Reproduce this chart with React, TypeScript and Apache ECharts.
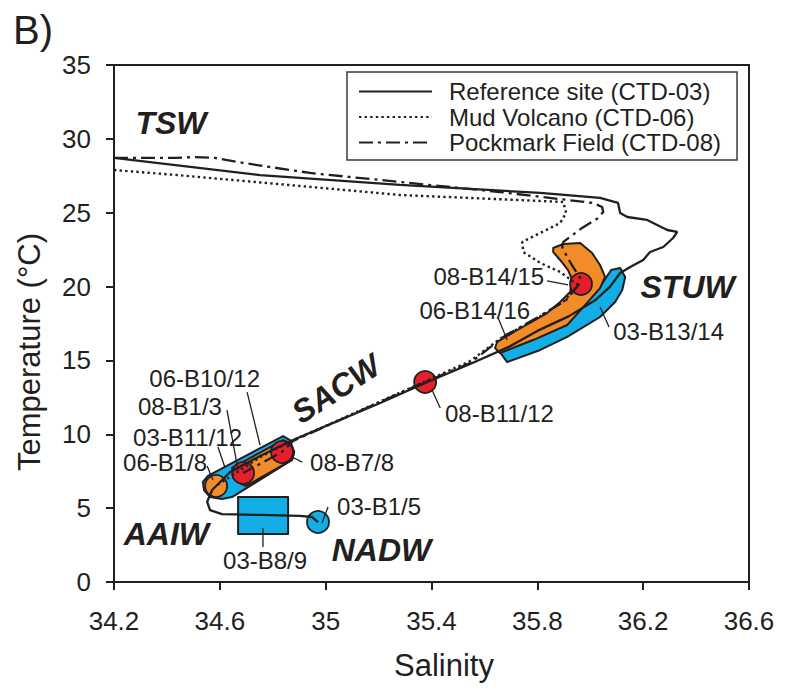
import React, { useEffect, useRef } from "react";
import * as echarts from "echarts";

const FONT = '"Liberation Sans", Arial, Helvetica, sans-serif';
const INK = "#231f20";
const ORANGE = "#F28C28";
const BLUE = "#14AEE6";
const RED = "#E5202A";

// Axis ticks
const salinityTicks = [34.2, 34.6, 35, 35.4, 35.8, 36.2, 36.6];

// CTD profiles: [salinity, temperature]
const ctd03: number[][] = [
  [34.2, 28.71], [34.752, 27.55], [35.281, 26.88], [35.811, 26.34], [36.037, 26.0],
  [36.105, 25.66], [36.113, 24.98], [36.14, 24.71], [36.215, 24.51], [36.291, 23.83],
  [36.329, 23.7], [36.313, 23.29], [36.276, 22.68], [36.226, 22.34], [36.2, 21.8],
  [36.151, 21.33], [36.113, 20.92], [36.075, 20.0], [36.02, 19.09], [35.92, 18.0],
  [35.8, 17.0], [35.69, 15.9], [35.546, 14.76], [35.376, 13.47], [35.206, 12.12],
  [35.054, 10.97], [34.877, 9.61], [34.752, 8.53], [34.639, 7.45], [34.571, 6.23],
  [34.552, 5.42], [34.563, 4.87], [34.608, 4.6], [34.752, 4.54], [34.903, 4.47],
  [34.949, 4.4], [34.971, 4.06],
];
const ctd06: number[][] = [
  [34.2, 27.89], [34.438, 27.55], [34.778, 27.01], [35.281, 26.2], [35.898, 25.73],
  [35.909, 24.98], [35.886, 24.3], [35.811, 23.63], [35.743, 23.02], [35.747, 22.34],
  [35.811, 21.6], [35.886, 20.99], [35.932, 20.38], [35.954, 20.11], [35.9, 19.0],
  [35.79, 17.75], [35.67, 16.6], [35.546, 14.96], [35.376, 13.58], [35.206, 12.22],
  [35.054, 11.0], [34.877, 9.6], [34.752, 8.45], [34.586, 6.5],
];
const ctd08: number[][] = [
  [34.2, 28.71], [34.431, 28.71], [34.506, 28.77], [34.582, 28.71], [34.688, 28.37],
  [34.941, 27.69], [35.281, 27.08], [35.659, 26.4], [36.011, 25.66], [36.045, 25.39],
  [36.049, 25.05], [36.03, 24.64], [35.969, 23.97], [35.898, 23.02], [35.894, 22.68],
  [35.913, 22.0], [35.935, 21.33], [35.962, 20.58], [35.958, 20.17], [35.91, 19.1],
  [35.8, 17.9], [35.68, 16.7], [35.546, 14.83], [35.376, 13.54], [35.206, 12.19],
  [35.054, 10.97], [34.877, 9.55], [34.835, 8.8], [34.688, 7.38],
];

// Sample ranges (polygons) [salinity, temperature]
const stuwBlue: number[][] = [
  [35.652, 15.71], [35.686, 14.89], [35.811, 15.71], [35.913, 16.59], [36.037, 17.94],
  [36.094, 18.96], [36.121, 19.77], [36.132, 20.65], [36.113, 21.26], [36.079, 21.12],
  [36.049, 20.31], [35.999, 19.43], [35.886, 18.01], [35.773, 16.79], [35.659, 15.98],
];
const stuwOrange: number[][] = [
  [35.86, 22.61], [35.898, 22.88], [35.962, 22.95], [36.007, 22.27], [36.037, 21.46],
  [36.056, 20.65], [36.037, 19.9], [35.988, 18.89], [35.913, 17.4], [35.784, 16.38],
  [35.659, 15.5], [35.64, 15.84], [35.648, 16.25], [35.724, 17.06], [35.837, 18.21],
  [35.886, 18.96], [35.924, 19.63], [35.932, 20.45], [35.916, 21.12], [35.886, 21.8],
  [35.86, 22.34],
];
const sacwBlue: number[][] = [
  [34.536, 6.77], [34.555, 7.18], [34.839, 9.88], [34.865, 9.61], [34.881, 8.8],
  [34.873, 8.26], [34.646, 5.75], [34.608, 5.62], [34.563, 5.75], [34.54, 6.23],
];
const sacwOrange: number[][] = [
  [34.646, 7.72], [34.839, 9.61], [34.865, 9.41], [34.881, 8.8], [34.873, 8.26],
  [34.699, 6.5], [34.669, 6.77],
];
const aaiwBox: number[][] = [
  [34.669, 5.75], [34.858, 5.75], [34.858, 3.25], [34.669, 3.25],
];

// Single samples
const redSamples: number[][] = [[35.965, 20.17], [35.376, 13.54], [34.835, 8.8], [34.688, 7.38]];
const orangeSamples: number[][] = [[34.586, 6.5]];
const blueSamples: number[][] = [[34.971, 4.06]];

// Sample labels: text anchor, leader line from/to
const sampleLabels = [
  { text: "08-B14/15", at: [35.826, 20.65], align: "right", from: [35.837, 20.38], to: [35.916, 20.11] },
  { text: "06-B14/16", at: [35.773, 18.41], align: "right", from: [35.652, 17.87], to: [35.686, 16.38] },
  { text: "03-B13/14", at: [36.087, 16.99], align: "left", from: [36.037, 18.62], to: [36.071, 17.26] },
  { text: "08-B11/12", at: [35.451, 11.44], align: "left", from: [35.402, 13.0], to: [35.433, 11.78] },
  { text: "08-B7/8", at: [34.941, 8.06], align: "left", from: [34.873, 8.46], to: [34.911, 8.12] },
  { text: "06-B1/8", at: [34.552, 8.06], align: "right", from: [34.552, 7.85], to: [34.574, 6.91] },
  { text: "03-B11/12", at: [34.684, 9.75], align: "right", from: [34.593, 9.14], to: [34.62, 7.72] },
  { text: "08-B1/3", at: [34.608, 11.85], align: "right", from: [34.627, 11.64], to: [34.669, 7.58] },
  { text: "06-B10/12", at: [34.752, 13.81], align: "right", from: [34.703, 12.86], to: [34.752, 9.27] },
  { text: "03-B1/5", at: [35.043, 5.08], align: "left", from: [35.009, 5.08], to: [34.986, 3.99] },
  { text: "03-B8/9", at: [34.771, 1.45], align: "center", from: [34.763, 3.66], to: [34.763, 2.37] },
];

// Water mass names
const waterMasses = [
  { text: "TSW", at: [34.4155, 31.04], angle: 0 },
  { text: "STUW", at: [36.368, 19.97], angle: 0 },
  { text: "SACW", at: [35.039, 13.07], angle: 33 },
  { text: "AAIW", at: [34.398, 3.25], angle: 0 },
  { text: "NADW", at: [35.211, 2.17], angle: 0 },
];

const profileNames = ["Reference site (CTD-03)", "Mud Volcano (CTD-06)", "Pockmark Field (CTD-08)"];

function polygonSeries(name: string, pts: number[][], fill: string, z: number) {
  return {
    type: "custom",
    name,
    coordinateSystem: "cartesian2d",
    silent: true,
    clip: false,
    z,
    data: [pts[0]],
    renderItem: (_params: any, api: any) => ({
      type: "polygon",
      shape: { points: pts.map((p) => api.coord(p)) },
      style: { fill, stroke: INK, lineWidth: 2, lineJoin: "round" },
    }),
  };
}

function scatterSeries(name: string, data: number[][], color: string) {
  return {
    type: "scatter",
    name,
    data,
    symbol: "circle",
    symbolSize: 22,
    silent: true,
    z: 4,
    itemStyle: { color, borderColor: INK, borderWidth: 1.8, opacity: 1 },
  };
}

export default function App() {
  const ref = useRef<HTMLDivElement>(null);

  useEffect(() => {
    if (!ref.current) return;
    const chart = echarts.init(ref.current, null, { renderer: "svg" });

    const lineBase = {
      type: "line", showSymbol: false, symbol: "none", silent: true, z: 5, smooth: false,
      color: INK, itemStyle: { color: INK },
    };

    const option: any = {
      animation: false,
      backgroundColor: "#ffffff",
      textStyle: { fontFamily: FONT },
      grid: {
        left: 114, right: 38, top: 65, bottom: 115,
        show: true, borderColor: INK, borderWidth: 2, backgroundColor: "transparent",
        outerBoundsMode: "none",
      },
      xAxis: {
        type: "value",
        min: 34.2,
        max: 36.6,
        axisLine: { show: true, onZero: false, lineStyle: { color: INK, width: 2 } },
        axisTick: { show: true, length: 8, lineStyle: { color: INK, width: 2 }, customValues: salinityTicks },
        axisLabel: { customValues: salinityTicks, fontSize: 26, fontFamily: FONT, color: INK, margin: 26 },
        splitLine: { show: false },
      },
      yAxis: {
        type: "value",
        min: 0,
        max: 35,
        interval: 5,
        axisLine: { show: true, onZero: false, lineStyle: { color: INK, width: 2 } },
        axisTick: { show: true, length: 8, lineStyle: { color: INK, width: 2 } },
        axisLabel: { fontSize: 26, fontFamily: FONT, color: INK, margin: 23 },
        splitLine: { show: false },
      },
      legend: {
        data: profileNames,
        orient: "vertical",
        left: 347,
        top: 72,
        itemWidth: 73,
        itemHeight: 14,
        itemGap: 0.5,
        padding: [7, 16, 5, 11],
        borderColor: "#3a3a3a",
        borderWidth: 1.5,
        backgroundColor: "#ffffff",
        selectedMode: false,
        itemStyle: { opacity: 0, borderWidth: 0 },
        textStyle: { fontSize: 24, fontFamily: FONT, color: INK, lineHeight: 25, padding: [0, 0, 0, 12] },
      },
      graphic: [
        { type: "text", left: 13, top: 10, style: { text: "B)", fontSize: 40, fontFamily: FONT, fill: INK } },
        {
          type: "text", x: 29, y: 352, rotation: Math.PI / 2,
          style: { text: "Temperature (°C)", fontSize: 31, fontFamily: FONT, fill: INK, align: "center", verticalAlign: "middle", textAlign: "center", textVerticalAlign: "middle" },
        },
        {
          type: "text", x: 444, y: 665,
          style: { text: "Salinity", fontSize: 31, fontFamily: FONT, fill: INK, align: "center", verticalAlign: "middle", textAlign: "center", textVerticalAlign: "middle" },
        },
      ],
      series: [
        polygonSeries("03-B13/14", stuwBlue, BLUE, 1),
        polygonSeries("06-B14/16", stuwOrange, ORANGE, 2),
        polygonSeries("03-B11/12", sacwBlue, BLUE, 1),
        polygonSeries("06-B10/12", sacwOrange, ORANGE, 2),
        polygonSeries("03-B8/9", aaiwBox, BLUE, 1),
        scatterSeries("CTD-08 samples", redSamples, RED),
        scatterSeries("CTD-06 samples", orangeSamples, ORANGE),
        scatterSeries("CTD-03 samples", blueSamples, BLUE),
        { ...lineBase, name: profileNames[0], data: ctd03, lineStyle: { color: INK, width: 2.3, type: "solid" } },
        { ...lineBase, name: profileNames[1], data: ctd06, lineStyle: { color: INK, width: 2.4, type: [2.4, 3.2] } },
        { ...lineBase, name: profileNames[2], data: ctd08, lineStyle: { color: INK, width: 2.3, type: [14, 5, 3, 5] } },
        {
          type: "custom",
          name: "sample labels",
          coordinateSystem: "cartesian2d",
          silent: true,
          clip: false,
          z: 6,
          data: sampleLabels.map((l) => l.at),
          renderItem: (params: any, api: any) => {
            const l = sampleLabels[params.dataIndex];
            const p = api.coord(l.at);
            const a = api.coord(l.from);
            const b = api.coord(l.to);
            return {
              type: "group",
              children: [
                { type: "line", shape: { x1: a[0], y1: a[1], x2: b[0], y2: b[1] }, style: { stroke: INK, lineWidth: 1.3 } },
                {
                  type: "text", x: p[0], y: p[1],
                  style: { text: l.text, fill: INK, fontSize: 24, fontFamily: FONT, align: l.align, verticalAlign: "middle", textAlign: l.align, textVerticalAlign: "middle" },
                },
              ],
            };
          },
        },
        {
          type: "custom",
          name: "water masses",
          coordinateSystem: "cartesian2d",
          silent: true,
          clip: false,
          z: 6,
          data: waterMasses.map((w) => w.at),
          renderItem: (params: any, api: any) => {
            const w = waterMasses[params.dataIndex];
            const p = api.coord(w.at);
            return {
              type: "text", x: p[0], y: p[1], rotation: (w.angle * Math.PI) / 180,
              style: {
                text: w.text, fill: INK, fontSize: 32, fontWeight: "bold", fontStyle: "italic", fontFamily: FONT,
                align: "center", verticalAlign: "middle", textAlign: "center", textVerticalAlign: "middle",
              },
            };
          },
        },
      ],
    };

    chart.setOption(option);
    return () => chart.dispose();
  }, []);

  return (
    <div
      ref={ref}
      style={{ position: "fixed", left: 0, top: 0, width: 787, height: 697, background: "#ffffff" }}
    />
  );
}
